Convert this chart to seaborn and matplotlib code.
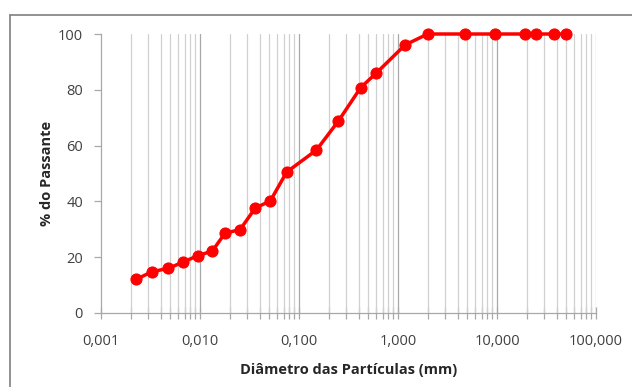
import matplotlib
matplotlib.use('Agg')
import matplotlib.pyplot as plt
import matplotlib.ticker as mticker
import seaborn as sns
import pandas as pd
import numpy as np

# Dados da curva granulométrica
diametro = [0.00228, 0.00327, 0.00479, 0.00669, 0.00944, 0.0133, 0.0179, 0.0254,
            0.0363, 0.0512, 0.075, 0.15, 0.25, 0.42, 0.6, 1.18,
            2.0, 4.75, 9.5, 19.0, 25.0, 37.5, 50.0]
passante = [12.1, 14.8, 16.0, 18.2, 20.5, 22.2, 28.6, 29.9,
            37.7, 40.1, 50.5, 58.4, 68.8, 80.8, 85.9, 96.1,
            100, 100, 100, 100, 100, 100, 100]
x_ticks = [0.001, 0.01, 0.1, 1, 10, 100]
x_labels = ["0,001", "0,010", "0,100", "1,000", "10,000", "100,000"]

df = pd.DataFrame({"Diametro": diametro, "Passante": passante})

sns.set_style("white")
plt.rcParams['font.family'] = ['Open Sans', 'DejaVu Sans']

fig = plt.figure(figsize=(6.32, 3.87), dpi=100)
ax = fig.add_axes([101 / 632, 1 - 313 / 387, 495 / 632, 279 / 387])

sns.lineplot(data=df, x="Diametro", y="Passante", ax=ax, color="#ff0000",
             linewidth=2.5, marker="o", markersize=8, markeredgecolor="#ff0000",
             clip_on=False, zorder=5)

ax.set_xscale("log")
ax.set_xlim(0.001, 100)
ax.set_ylim(0, 100)

# Grade vertical em todas as divisões
minor = [m * 10.0 ** e for e in range(-3, 2) for m in range(2, 10)]
for v in minor:
    ax.axvline(v, color="#d0d0d0", linewidth=0.9, zorder=1)
for v in x_ticks[1:-1]:
    ax.axvline(v, color="#a8a8a8", linewidth=0.9, zorder=1)
ax.axvline(100, color="#a8a8a8", linewidth=0.9, zorder=1)

ax.xaxis.set_major_locator(mticker.FixedLocator(x_ticks))
ax.xaxis.set_minor_locator(mticker.FixedLocator(minor))
ax.xaxis.set_minor_formatter(mticker.NullFormatter())
ax.set_xticklabels(x_labels)
ax.set_yticks([0, 20, 40, 60, 80, 100])

ax.tick_params(axis="x", which="both", direction="inout", length=8, width=0.9,
               color="#a8a8a8", labelsize=10.5, labelcolor="#404040", pad=11, bottom=True)
ax.tick_params(axis="y", direction="out", length=5, width=0.9,
               color="#a8a8a8", labelsize=10.5, labelcolor="#404040", pad=8, left=True)

for s in ["top", "right"]:
    ax.spines[s].set_visible(False)
for s in ["left", "bottom"]:
    ax.spines[s].set_color("#a8a8a8")
    ax.spines[s].set_linewidth(0.9)

ax.set_xlabel("Diâmetro das Partículas (mm)", fontsize=10.5, fontweight="bold",
              color="#262626", labelpad=10)
ax.set_ylabel("% do Passante", fontsize=10.5, fontweight="bold",
              color="#262626", labelpad=3)

# Borda da área do gráfico
fig.add_artist(plt.Line2D([10 / 632, 10 / 632], [0, 1 - 15 / 387], color="#7f7f7f",
                          linewidth=1.2, transform=fig.transFigure))
fig.add_artist(plt.Line2D([10 / 632, 1], [1 - 15 / 387, 1 - 15 / 387], color="#7f7f7f",
                          linewidth=1.2, transform=fig.transFigure))

plt.savefig("out.png", dpi=100)
plt.close()
